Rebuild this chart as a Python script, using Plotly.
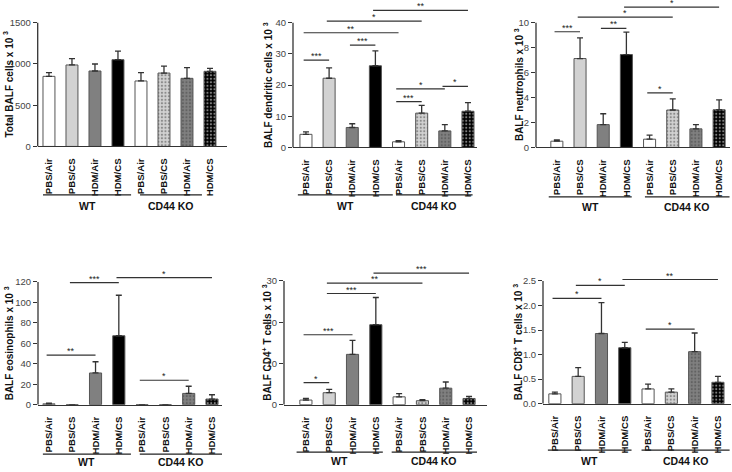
import plotly.graph_objects as go

W, H = 732, 472

# ---------------- data ----------------
conditions = ["PBS/Air", "PBS/CS", "HDM/Air", "HDM/CS",
              "PBS/Air", "PBS/CS", "HDM/Air", "HDM/CS"]
group_names = ["WT", "CD44 KO"]

total_mean = [850, 988, 915, 1052, 794, 890, 826, 911]
total_err = [45, 78, 85, 105, 100, 85, 130, 36]
total_ticks = [0, 500, 1000, 1500]
total_brackets = []

dc_mean = [4.2, 22.2, 6.4, 26.2, 1.8, 11.0, 5.3, 11.6]
dc_err = [0.8, 3.3, 1.2, 4.8, 0.4, 2.5, 2.0, 2.8]
dc_ticks = [0, 10, 20, 30, 40]
dc_brackets = [(0, 1, 28.0, "***"), (2, 3, 32.8, "***"), (0, 4, 36.8, "**"),
               (1, 5, 40.5, "*"), (3, 7, 44.0, "**"), (4, 5, 14.7, "***"),
               (4, 6, 18.8, "*"), (6, 7, 19.6, "*")]

neu_mean = [0.5, 7.13, 1.83, 7.45, 0.66, 3.0, 1.49, 3.02]
neu_err = [0.1, 1.65, 0.87, 1.8, 0.32, 0.9, 0.34, 0.8]
neu_ticks = [0, 2, 4, 6, 8, 10]
neu_brackets = [(0, 1, 9.28, "***"), (2, 3, 9.55, "**"), (1, 5, 10.45, "*"),
                (3, 7, 11.25, "*"), (4, 5, 4.38, "*")]

eos_mean = [0.8, 0, 31, 67.4, 0, 0, 11, 5.5]
eos_err = [0.7, 0, 11, 39.6, 0, 0, 7, 4.2]
eos_ticks = [0, 20, 40, 60, 80, 100, 120]
eos_brackets = [(0, 2, 48.4, "**"), (1, 3, 119.4, "***"), (3, 7, 124.2, "*"),
                (4, 6, 23.9, "*")]

cd4_mean = [1.12, 2.9, 12.2, 19.4, 1.9, 0.96, 4.0, 1.5]
cd4_err = [0.38, 0.8, 3.4, 6.6, 0.8, 0.24, 1.5, 0.5]
cd4_ticks = [0, 10, 20, 30]
cd4_brackets = [(0, 1, 5.36, "*"), (0, 2, 16.96, "***"), (1, 3, 26.96, "***"),
                (1, 5, 29.5, "**"), (3, 7, 31.9, "***")]

cd8_mean = [0.2, 0.556, 1.43, 1.14, 0.3, 0.235, 1.06, 0.436]
cd8_err = [0.035, 0.18, 0.63, 0.11, 0.1, 0.065, 0.38, 0.12]
cd8_ticks = [0.0, 0.5, 1.0, 1.5, 2.0, 2.5]
cd8_brackets = [(0, 2, 2.145, "*"), (1, 3, 2.41, "*"), (3, 7, 2.53, "**"),
                (4, 6, 1.52, "*")]

# ---------------- styles ----------------
fills = ["#ffffff", "#d2d2d2", "#808080", "#000000",
         "#ffffff", "#d2d2d2", "#808080", "#000000"]
pat_shapes = ["", "", "", "", "", ".", ".", "."]
pat_fg = ["#ffffff", "#ffffff", "#ffffff", "#ffffff",
          "#ffffff", "#f2f2f2", "#b0b0b0", "#b8b8b8"]
AX = "#333333"
FONT = "Liberation Sans, Arial, sans-serif"

panels = [
    dict(title="Total BALF cells x 10 <sup>3</sup>", mean=total_mean, err=total_err,
         ticks=total_ticks, brackets=total_brackets, fmt=None,
         L=37.7, R=227, xr=(-0.49, 7.74), Z=148, T=23, D=0, tx=8,
         grp=((-0.26, 3.57), (3.96, 6.65)), gy=197, ly=208),
    dict(title="BALF dendritic cells x 10 <sup>3</sup>", mean=dc_mean, err=dc_err,
         ticks=dc_ticks, brackets=dc_brackets, fmt=None,
         L=293, R=477, xr=(-0.56, 7.39), Z=149, T=23, D=0, tx=268,
         grp=((-0.35, 3.75), (3.89, 7.2)), gy=197, ly=208),
    dict(title="BALF neutrophils x 10 <sup>3</sup>", mean=neu_mean, err=neu_err,
         ticks=neu_ticks, brackets=neu_brackets, fmt=None,
         L=536, R=730, xr=(-0.9, 7.47), Z=149, T=23, D=0, tx=519,
         grp=((-0.35, 3.23), (3.8, 7.45)), gy=199, ly=209),
    dict(title="BALF eosinophils x 10 <sup>3</sup>", mean=eos_mean, err=eos_err,
         ticks=eos_ticks, brackets=eos_brackets, fmt=None,
         L=38, R=222, xr=(-0.47, 7.43), Z=409, T=285, D=250, tx=9,
         grp=((-0.26, 3.52), (3.9, 7.43)), gy=459, ly=467),
    dict(title="BALF CD4<sup>+</sup> T cells x 10 <sup>3</sup>", mean=cd4_mean, err=cd4_err,
         ticks=cd4_ticks, brackets=cd4_brackets, fmt=None,
         L=284, R=487, xr=(-0.94, 7.77), Z=409, T=284, D=250, tx=267,
         grp=((-0.4, 3.3), (3.68, 7.34)), gy=457, ly=466),
    dict(title="BALF CD8<sup>+</sup> T cells x 10 <sup>3</sup>", mean=cd8_mean, err=cd8_err,
         ticks=cd8_ticks, brackets=cd8_brackets, fmt=".1f",
         L=543, R=731, xr=(-0.51, 7.56), Z=408, T=284, D=250, tx=518,
         grp=((-0.3, 3.29), (3.72, 7.5)), gy=455, ly=466),
]

fig = go.Figure()
shapes = []
annotations = []
xs = list(range(len(conditions)))

for k, p in enumerate(panels):
    n = "" if k == 0 else str(k + 1)
    xa, ya = "x" + n, "y" + n
    V = p["ticks"][-1]
    ymax = V * (p["Z"] - p["D"]) / (p["Z"] - p["T"])

    fig.add_trace(go.Bar(
        x=xs, y=p["mean"], xaxis=xa, yaxis=ya, width=0.52,
        marker=dict(color=fills, line=dict(color="#555555", width=1),
                    pattern=dict(shape=pat_shapes, fgcolor=pat_fg, bgcolor=fills,
                                 size=3.5, solidity=0.3, fillmode="overlay")),
        error_y=dict(type="data", symmetric=False, array=p["err"],
                     arrayminus=[0] * len(p["err"]), color=AX, thickness=1.3, width=3),
        showlegend=False, hoverinfo="skip",
    ))

    fig.layout["xaxis" + n] = dict(
        domain=[p["L"] / W, p["R"] / W], anchor=ya, range=list(p["xr"]),
        tickmode="array", tickvals=xs, ticktext=conditions, tickangle=-90,
        ticks="", showline=True, linecolor=AX, linewidth=1.3, showgrid=False,
        zeroline=False, ticklabelstandoff=7,
        tickfont=dict(family=FONT, size=9.6, color="#111111", weight="bold"),
    )
    fig.layout["yaxis" + n] = dict(
        domain=[1 - p["Z"] / H, 1 - p["D"] / H], anchor=xa, range=[0, ymax],
        tickmode="array", tickvals=p["ticks"], ticks="outside", ticklen=4,
        tickwidth=1.2, tickcolor=AX, showline=False, showgrid=False, zeroline=False,
        tickformat=p["fmt"], tickfont=dict(family=FONT, size=9.5, color="#444444"),
    )

    # y-axis line only up to the last tick
    shapes.append(dict(type="line", xref=xa + " domain", yref=ya, x0=0, x1=0,
                       y0=0, y1=V, line=dict(color=AX, width=1.3)))

    # significance brackets
    for (i, j, lvl, lab) in p["brackets"]:
        x0, x1 = i - 0.1, j
        shapes.append(dict(type="line", xref=xa, yref=ya, x0=x0, x1=x1,
                           y0=lvl, y1=lvl, line=dict(color=AX, width=1.2)))
        annotations.append(dict(x=(x0 + x1) / 2, y=lvl, xref=xa, yref=ya,
                                text=lab, showarrow=False, yanchor="bottom",
                                yshift=-3,
                                font=dict(family=FONT, size=9, color="#222222")))

    # group lines and labels
    span = p["xr"][1] - p["xr"][0]
    for (g0, g1), gname in zip(p["grp"], group_names):
        f0 = (g0 - p["xr"][0]) / span
        f1 = (g1 - p["xr"][0]) / span
        shapes.append(dict(type="line", xref=xa + " domain", yref="paper",
                           x0=f0, x1=f1, y0=1 - p["gy"] / H, y1=1 - p["gy"] / H,
                           line=dict(color="#222222", width=1.3)))
        annotations.append(dict(x=(f0 + f1) / 2, y=1 - p["ly"] / H,
                                xref=xa + " domain", yref="paper", text=gname,
                                showarrow=False, xanchor="center", yanchor="middle",
                                font=dict(family=FONT, size=10.5, color="#111111",
                                          weight="bold")))

    # y-axis title
    annotations.append(dict(x=p["tx"] / W, y=1 - (p["Z"] + p["T"]) / 2 / H,
                            xref="paper", yref="paper", text=p["title"],
                            textangle=-90, showarrow=False,
                            xanchor="center", yanchor="middle",
                            font=dict(family=FONT, size=10, color="#111111",
                                      weight="bold")))

fig.update_layout(
    width=W, height=H, margin=dict(l=0, r=0, t=0, b=0),
    paper_bgcolor="white", plot_bgcolor="white",
    shapes=shapes, annotations=annotations, showlegend=False,
    font=dict(family=FONT),
)

fig.write_html("out.html", config={"displayModeBar": False},
               post_script="document.body.style.margin='0';"
                           "document.body.style.overflow='hidden';")
